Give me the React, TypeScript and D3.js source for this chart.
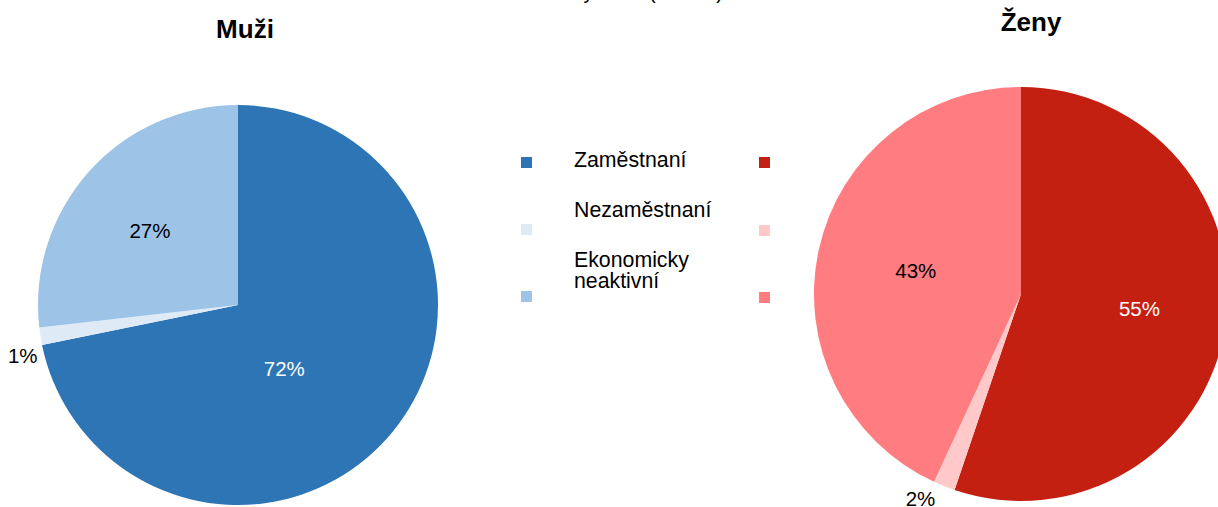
import { useEffect, useRef } from 'react';
import * as d3 from 'd3';

const categories = ['Zaměstnaní', 'Nezaměstnaní', 'Ekonomicky neaktivní'];
const menValues = [71.8, 1.4, 26.8];
const womenValues = [55.2, 1.7, 43.1];
const menColors = ['#2e75b6', '#deebf7', '#9dc3e6'];
const womenColors = ['#c42012', '#ffc9c9', '#ff7c80'];
const labelColors = ['#ffffff', '#000000', '#000000'];

const W = 1218;
const H = 507;
const FONT = '"Liberation Sans", Arial, sans-serif';

export default function App() {
  const ref = useRef<SVGSVGElement | null>(null);

  useEffect(() => {
    if (!ref.current) return;
    const svg = d3.select(ref.current);
    svg.selectAll('*').remove();

    // main title is cut off by the top edge, only descenders show
    svg.append('text')
      .attr('x', 723).attr('y', -1)
      .attr('text-anchor', 'end')
      .style('font-family', FONT).style('font-size', '20px')
      .text('Ekonomické aktivity 2021 (15+ let)');

    // label nudges (px) per slice, Excel-like placement
    const pies = [
      {
        title: 'Muži', values: menValues, colors: menColors,
        cx: 238, cy: 305, r: 200, tx: 245, ty: 38,
        nudge: [[-42, -8], [2, 16], [-3, 2]],
      },
      {
        title: 'Ženy', values: womenValues, colors: womenColors,
        cx: 1021, cy: 294, r: 207, tx: 1031, ty: 31,
        nudge: [[2, -4], [-16, -7], [10, 2]],
      },
    ];

    const pie = d3.pie<number>().sort(null).value(d => d);

    pies.forEach(p => {
      svg.append('text')
        .attr('x', p.tx).attr('y', p.ty)
        .attr('text-anchor', 'middle')
        .style('font-family', FONT).style('font-size', '26px').style('font-weight', 'bold')
        .text(p.title);

      const g = svg.append('g').attr('transform', `translate(${p.cx},${p.cy})`);
      const arcs = pie(p.values);
      const arc = d3.arc<d3.PieArcDatum<number>>().innerRadius(0).outerRadius(p.r);
      const inLabel = d3.arc<d3.PieArcDatum<number>>().innerRadius(p.r * 0.57).outerRadius(p.r * 0.57);
      const outLabel = d3.arc<d3.PieArcDatum<number>>().innerRadius(p.r * 1.1).outerRadius(p.r * 1.1);

      g.selectAll('path.slice').data(arcs).enter()
        .append('path')
        .attr('class', 'slice')
        .attr('d', arc)
        .attr('fill', (_, i) => p.colors[i]);

      g.selectAll('text.lbl').data(arcs).enter()
        .append('text')
        .attr('class', 'lbl')
        .attr('transform', (d, i) => {
          const [x, y] = d.data < 5 ? outLabel.centroid(d) : inLabel.centroid(d);
          return `translate(${x + p.nudge[i][0]},${y + p.nudge[i][1]})`;
        })
        .attr('text-anchor', 'middle')
        .attr('dy', '0.35em')
        .attr('fill', (d, i) => (d.data < 5 ? '#000' : labelColors[i]))
        .style('font-family', FONT).style('font-size', '20.5px')
        .text(d => `${Math.round(d.data)}%`);
    });

    // legend: text column in the middle, blue markers left, red markers right
    const legendLines = [['Zaměstnaní'], ['Nezaměstnaní'], ['Ekonomicky', 'neaktivní']];
    const lineY = [167, 217, 267];
    const boxY = [157, 224, 291];
    categories.forEach((c, i) => {
      svg.append('rect').attr('x', 521).attr('y', boxY[i]).attr('width', 11).attr('height', 11).attr('fill', menColors[i]);
      svg.append('rect').attr('x', 759).attr('y', boxY[i] + (i ? 1 : 0)).attr('width', 11).attr('height', 11).attr('fill', womenColors[i]);
      const t = svg.append('text')
        .attr('x', 574).attr('y', lineY[i])
        .style('font-family', FONT).style('font-size', '21.3px')
        .attr('fill', '#000');
      legendLines[i].forEach((line, j) => {
        t.append('tspan').attr('x', 574).attr('dy', j === 0 ? 0 : 21).text(line);
      });
    });
  }, []);

  return (
    <svg
      ref={ref}
      width={W}
      height={H}
      style={{ position: 'absolute', left: 0, top: 0, background: '#fff' }}
    />
  );
}
